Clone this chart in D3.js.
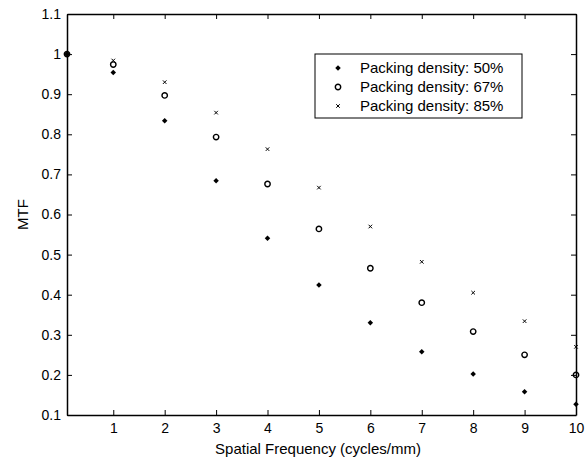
<!DOCTYPE html>
<html>
<head>
<meta charset="utf-8">
<style>
body { margin: 0; background: #fff; }
text { font-family: "Liberation Sans", Arial, sans-serif; fill: #000; }
</style>
</head>
<body>
<script src="https://cdn.jsdelivr.net/npm/d3@7"></script>
<script>
// spatial frequency (cycles/mm)
var freq = [0.1, 1, 2, 3, 4, 5, 6, 7, 8, 9, 10];
// MTF per packing density
var mtf50 = [1, 0.954, 0.834, 0.684, 0.541, 0.424, 0.330, 0.258, 0.202, 0.158, 0.127];
var mtf67 = [1, 0.974, 0.897, 0.793, 0.676, 0.564, 0.466, 0.380, 0.308, 0.250, 0.200];
var mtf85 = [1, 0.984, 0.930, 0.854, 0.763, 0.667, 0.570, 0.482, 0.405, 0.334, 0.270];
var seriesNames = ["Packing density: 50%", "Packing density: 67%", "Packing density: 85%"];
var xTicks = [1, 2, 3, 4, 5, 6, 7, 8, 9, 10];
var yTicks = [0.1, 0.2, 0.3, 0.4, 0.5, 0.6, 0.7, 0.8, 0.9, 1, 1.1];

var width = 587, height = 460;
var pLeft = 67, pRight = 576, pTop = 14, pBottom = 415;

var svg = d3.select("body").append("svg")
    .attr("width", width)
    .attr("height", height);

var x = d3.scaleLinear().domain([0.1, 10]).range([pLeft, pRight]);
var y = d3.scaleLinear().domain([0.1, 1.1]).range([pBottom, pTop]);

var fmt = function(d) { return String(+d.toFixed(1)); };

// axes (MATLAB-like box with inward ticks)
svg.append("g").attr("transform", "translate(0," + pBottom + ")")
    .call(d3.axisBottom(x).tickValues(xTicks).tickSizeInner(-5).tickSizeOuter(0).tickPadding(8).tickFormat(fmt));
svg.append("g").attr("transform", "translate(0," + pTop + ")")
    .call(d3.axisTop(x).tickValues(xTicks).tickSizeInner(-5).tickSizeOuter(0).tickFormat(""));
svg.append("g").attr("transform", "translate(" + pLeft + ",0)")
    .call(d3.axisLeft(y).tickValues(yTicks).tickSizeInner(-5).tickSizeOuter(0).tickPadding(6).tickFormat(fmt));
svg.append("g").attr("transform", "translate(" + pRight + ",0)")
    .call(d3.axisRight(y).tickValues(yTicks).tickSizeInner(-5).tickSizeOuter(0).tickFormat(""));

svg.selectAll(".domain").attr("stroke", "#000").attr("stroke-width", 1.5);
svg.selectAll(".tick line").attr("stroke", "#000").attr("stroke-width", 1);
svg.selectAll(".tick text").attr("font-size", 14).attr("font-family", "Liberation Sans, Arial, sans-serif").attr("fill", "#000");

svg.append("text")
    .attr("x", 318)
    .attr("y", 454)
    .attr("text-anchor", "middle")
    .attr("font-size", 15)
    .text("Spatial Frequency (cycles/mm)");

svg.append("text")
    .attr("transform", "translate(28," + ((pTop + pBottom) / 2) + ") rotate(-90)")
    .attr("text-anchor", "middle")
    .attr("font-size", 15)
    .text("MTF");

// square turned 45 degrees = MATLAB-like diamond
var diamond = d3.symbol().type(d3.symbolSquare).size(15);
var cross = d3.symbol().type(d3.symbolX).size(10);

function drawMarker(g, kind) {
  if (kind == 0) {
    g.append("path").attr("d", diamond).attr("transform", "rotate(45)").attr("fill", "#000");
  } else if (kind == 1) {
    g.append("circle").attr("r", 2.7).attr("fill", "none").attr("stroke", "#000").attr("stroke-width", 1.4);
  } else {
    g.append("path").attr("d", cross).attr("fill", "none").attr("stroke", "#000").attr("stroke-width", 1);
  }
}

var allSeries = [mtf85, mtf67, mtf50];
var kinds = [2, 1, 0];
allSeries.forEach(function(vals, i) {
  svg.append("g").selectAll("g")
      .data(vals)
      .enter().append("g")
      .attr("transform", function(d, j) { return "translate(" + x(freq[j]) + "," + y(d) + ")"; })
      .each(function() { drawMarker(d3.select(this), kinds[i]); });
});

// legend
var legend = svg.append("g");
legend.append("rect")
    .attr("x", 315).attr("y", 54)
    .attr("width", 207).attr("height", 64)
    .attr("fill", "#fff").attr("stroke", "#000").attr("stroke-width", 1);

seriesNames.forEach(function(name, i) {
  var row = legend.append("g").attr("transform", "translate(0," + (68 + i * 19) + ")");
  var m = row.append("g").attr("transform", "translate(338,0)");
  drawMarker(m, i);
  row.append("text")
      .attr("x", 360).attr("y", 0)
      .attr("dy", "0.35em")
      .attr("font-size", 15)
      .text(name);
});
</script>
</body>
</html>
